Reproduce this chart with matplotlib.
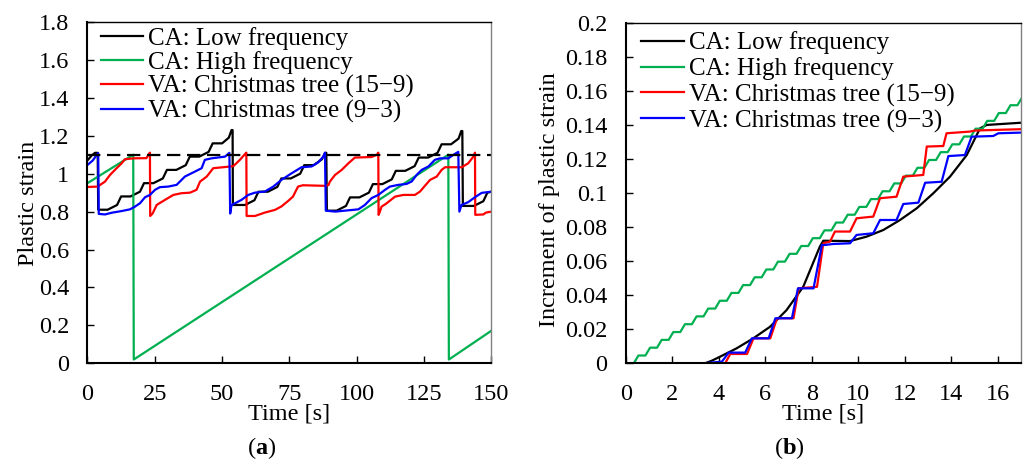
import numpy as np
import matplotlib
matplotlib.use("Agg")
import matplotlib.pyplot as plt
from matplotlib.ticker import FuncFormatter

plt.rcParams["font.family"] = ["Liberation Serif", "DejaVu Serif"]
plt.rcParams["font.size"] = 17.5
plt.rcParams["mathtext.fontset"] = "custom"
plt.rcParams["mathtext.rm"] = "Liberation Serif"
plt.rcParams["mathtext.bf"] = "Liberation Serif:bold"

# -------------------------
# Panel (a): plastic strain vs time
# -------------------------
labels = ["CA: Low frequency", "CA: High frequency",
          "VA: Christmas tree (15\u22129)", "VA: Christmas tree (9\u22123)"]
colors = ["#000000", "#00B050", "#FF0000", "#0000FF"]

limit_a = 1.1

low_a_t = [0, 1.5, 2.8, 3.8, 4.0,
           7.5, 11, 12.5, 16, 19.5, 21, 24.5, 28, 29.5, 33, 36.5, 38,
           41.5, 45, 46.5, 50, 52.5, 53.5, 53.9, 54.0,
           58.5, 62, 63.5, 67, 70.5, 72, 75.5, 79, 80.5, 84, 87, 88.3, 88.7, 88.9,
           92.5, 96, 97.5, 101, 104.5, 106, 109.5, 113, 114.5, 118, 121.5, 123,
           126.5, 130, 131.5, 135, 137.8, 138.8, 139.2, 139.4,
           143.5, 147, 148.5, 150]
low_a_v = [1.07, 1.095, 1.11, 1.11, 0.81,
           0.81, 0.835, 0.88, 0.88, 0.905, 0.95, 0.95, 0.975, 1.02, 1.02, 1.045, 1.09,
           1.09, 1.115, 1.16, 1.16, 1.19, 1.23, 1.23, 0.835,
           0.835, 0.86, 0.905, 0.905, 0.93, 0.975, 0.975, 1.0, 1.045, 1.045, 1.075, 1.11, 1.11, 0.805,
           0.805, 0.83, 0.875, 0.875, 0.9, 0.945, 0.945, 0.97, 1.015, 1.015, 1.04, 1.085,
           1.085, 1.11, 1.155, 1.155, 1.185, 1.225, 1.225, 0.83,
           0.83, 0.855, 0.90, 0.905]

high_a_t = [0, 17.0, 17.2, 134.0, 134.2, 150]
high_a_v = [0.95, 1.1, 0.02, 1.1, 0.02, 0.172]

va15_a_t = [0, 4.0, 4.6, 6.5, 8.35, 10.2, 12.7, 13.9, 17, 21.9, 22.6, 23.2, 23.3,
            24.2, 25.7, 28.8, 31.9, 34.9, 38.1, 40.5, 41.8, 44.3, 46.7, 51.7, 54.2,
            56.6, 58.8, 59.0, 59.1,
            62.2, 65.9, 69.6, 72, 74.5, 76.3, 78.2, 80, 88.1, 89.5, 90, 91.9, 94.4,
            96.9, 99.3, 105.5, 107.5, 108, 108.1,
            108.6, 109.2, 111.1, 114.2, 117.3, 121.6, 123.5, 125.3, 127.2, 129.7,
            131.5, 132.8, 139, 141.4, 143.3, 143.9, 144.0, 147, 148, 150]
va15_a_v = [0.93, 0.932, 0.94, 0.958, 0.993, 1.02, 1.055, 1.076, 1.081, 1.082, 1.099, 1.111, 0.777,
            0.79, 0.835, 0.862, 0.888, 0.897, 0.9, 0.915, 0.958, 0.985, 1.029, 1.036, 1.04,
            1.073, 1.108, 1.111, 0.777,
            0.777, 0.795, 0.809, 0.827, 0.856, 0.879, 0.932, 0.939, 0.936, 0.94, 0.958, 0.993, 1.02,
            1.055, 1.085, 1.088, 1.1, 1.111, 0.783,
            0.80, 0.826, 0.844, 0.879, 0.888, 0.888, 0.906, 0.936, 0.967, 0.985,
            1.02, 1.034, 1.034, 1.055, 1.09, 1.111, 0.783, 0.785, 0.795, 0.80]

va9_a_t = [0, 2, 3.5, 4.0, 4.2, 6.5, 8.97, 12.7, 15.8, 17.6, 19.5, 21.4, 23.2, 25.1,
           26.9, 30, 33.1, 36.2, 39.9, 42.4, 43.6, 46.1, 51.1, 52.7, 53.0,
           53.5, 54.8, 57.2, 59.7, 62.2, 65.9, 69, 72, 75.8, 79.5, 83.2, 85.6, 87.6,
           88.2, 88.5,
           92, 95.6, 100.6, 103, 105.5, 108, 110.5, 112.3, 115.4, 118.5, 120.4, 122.2,
           124.1, 126.6, 129, 130.9, 134, 136.5, 137.7, 138.1,
           138.9, 141.4, 143.9, 146.4, 150]
va9_a_v = [1.046, 1.07, 1.1, 1.108, 0.788, 0.785, 0.794, 0.803, 0.812, 0.826, 0.844, 0.876, 0.888, 0.915,
           0.929, 0.932, 0.941, 0.985, 1.011, 1.029, 1.073, 1.081, 1.09, 1.11, 0.79,
           0.835, 0.844, 0.862, 0.888, 0.9, 0.906, 0.932, 0.967, 1.002, 1.034, 1.038, 1.059, 1.09,
           1.111, 0.805,
           0.8, 0.805, 0.812, 0.835, 0.871, 0.888, 0.915, 0.932, 0.941, 0.946, 0.959, 0.993,
           1.02, 1.038, 1.073, 1.081, 1.081, 1.105, 1.115, 0.80,
           0.835, 0.85, 0.876, 0.899, 0.905]

# -------------------------
# Panel (b): increment of plastic strain
# -------------------------
low_b_t = [0, 3.41, 3.7, 4.06, 4.77, 5.49, 6.21, 6.92, 7.64, 8.35, 8.5, 9.65, 10.36,
           11.08, 11.8, 12.52, 13.23, 13.95, 14.67, 15.24, 15.53, 17]
low_b_v = [0, 0, 0.0015, 0.0039, 0.0088, 0.0147, 0.0215, 0.0313, 0.0451, 0.0686, 0.0721,
           0.0719, 0.0745, 0.0784, 0.0843, 0.0912, 0.1, 0.1098, 0.1225, 0.1382, 0.1402, 0.1415]

# high frequency staircase: step onset times and the level reached after each step
high_b_onset = [0.35, 0.85, 1.35, 1.85, 2.35, 2.85, 3.35, 3.85, 4.35, 4.85, 5.35, 5.85,
                6.35, 6.85, 7.35, 7.85, 8.35, 8.85, 9.35, 9.85, 10.35, 10.85, 11.35,
                11.85, 12.35, 12.85, 13.35, 13.85, 14.35, 14.85, 15.35, 15.85, 16.35, 16.85]
high_b_level = [0.0046, 0.0092, 0.0138, 0.0184, 0.023, 0.0276, 0.0322, 0.0368, 0.0414,
                0.046, 0.0506, 0.0552, 0.0598, 0.0644, 0.069, 0.0736, 0.0782, 0.0828,
                0.0874, 0.092, 0.0966, 0.1012, 0.1058, 0.1104, 0.115, 0.1196, 0.1242,
                0.1288, 0.1334, 0.138, 0.1426, 0.1472, 0.1518, 0.1564]

va15_b_t = [0, 4.28, 4.5, 5.22, 5.5, 6.22, 6.51, 7.22, 7.44, 8.23, 8.5, 8.79, 9.0, 9.65,
            9.93, 10.65, 10.94, 11.65, 11.94, 12.8, 12.95, 13.66, 13.8, 14.81, 15.02,
            15.95, 17]
va15_b_v = [0, 0, 0.0055, 0.0055, 0.0147, 0.0147, 0.0265, 0.0265, 0.0441, 0.045, 0.0706,
            0.0716, 0.0775, 0.0775, 0.0853, 0.0863, 0.0971, 0.098, 0.1098, 0.1108, 0.1275,
            0.1278, 0.1353, 0.1363, 0.1369, 0.1373, 0.1377]

va9_b_t = [0, 3.35, 4.14, 4.43, 5.14, 5.43, 6.15, 6.44, 7.15, 7.41, 8.08, 8.44, 8.57,
           8.93, 9.65, 9.93, 10.65, 10.94, 11.65, 11.94, 12.59, 12.88, 13.59, 13.88,
           14.59, 14.88, 15.81, 16.03, 17]
va9_b_v = [0, 0, 0.001, 0.0063, 0.0063, 0.0147, 0.0147, 0.0265, 0.0265, 0.0441, 0.0441,
           0.0696, 0.0696, 0.0702, 0.0706, 0.0755, 0.0765, 0.0843, 0.0843, 0.0937, 0.0945,
           0.1062, 0.1068, 0.1219, 0.1225, 0.1333, 0.1337, 0.1353, 0.1357]


def ramp_steps(onsets, levels, rise=0.2):
    xs, ys = [0], [0]
    prev = 0
    for t0, lv in zip(onsets, levels):
        xs += [t0, t0 + rise]
        ys += [prev, lv]
        prev = lv
    return xs, ys


def style_axes(ax):
    ax.tick_params(direction="in", length=5, width=1, labelsize=17.5)
    ax.tick_params(axis="x", pad=15)
    ax.tick_params(axis="y", pad=13)
    for side in ["left", "bottom"]:
        ax.spines[side].set_linewidth(1.5)
    ax.spines["top"].set_linewidth(1)
    ax.spines["right"].set_linewidth(1)
    ax.spines["right"].set_color("#808080")
    ax.yaxis.set_major_formatter(FuncFormatter(lambda v, _: f"{v:g}"))


fig = plt.figure(figsize=(10.24, 4.61), dpi=100)
ax1 = fig.add_axes([0.0854, 0.2119, 0.3945, 0.7404])
ax2 = fig.add_axes([0.611, 0.2119, 0.386, 0.7376])

lw = 1.6
ax1.plot(low_a_t, low_a_v, color=colors[0], lw=lw, label=labels[0])
ax1.plot(high_a_t, high_a_v, color=colors[1], lw=lw, label=labels[1])
ax1.plot(va15_a_t, va15_a_v, color=colors[2], lw=lw, label=labels[2])
ax1.plot(va9_a_t, va9_a_v, color=colors[3], lw=lw, label=labels[3])
ax1.axhline(limit_a, color="black", lw=1.6, dashes=(6, 3))
ax1.set_xlim(0, 150)
ax1.set_ylim(0, 1.8)
ax1.set_xticks(np.arange(0, 151, 25))
ax1.set_yticks(np.round(np.arange(0, 1.81, 0.2), 2))
style_axes(ax1)
ax1.set_xlabel("Time [s]")
ax1.set_ylabel("Plastic strain")
ax1.yaxis.set_label_coords(-0.12, 0.47)
ax1.xaxis.set_label_coords(0.5, -0.118)
ax1.legend(loc="upper left", bbox_to_anchor=(0.033, 0.986), frameon=False,
           borderpad=0, borderaxespad=0, handlelength=1.7, handletextpad=0.2,
           labelspacing=0.05, fontsize=18)

hx, hy = ramp_steps(high_b_onset, high_b_level)
ax2.plot(low_b_t, low_b_v, color=colors[0], lw=lw, label=labels[0])
ax2.plot(hx, hy, color=colors[1], lw=lw, label=labels[1])
ax2.plot(va15_b_t, va15_b_v, color=colors[2], lw=lw, label=labels[2])
ax2.plot(va9_b_t, va9_b_v, color=colors[3], lw=lw, label=labels[3])
ax2.set_xlim(0, 17)
ax2.set_ylim(0, 0.2)
ax2.set_xticks(np.arange(0, 17, 2))
ax2.set_yticks(np.round(np.arange(0, 0.201, 0.02), 2))
style_axes(ax2)
ax2.set_xlabel("Time [s]")
ax2.set_ylabel("Increment of plastic strain")
ax2.yaxis.set_label_coords(-0.166, 0.48)
ax2.xaxis.set_label_coords(0.5, -0.118)
ax2.legend(loc="upper left", bbox_to_anchor=(0.04, 0.976), frameon=False,
           borderpad=0, borderaxespad=0, handlelength=1.7, handletextpad=0.2,
           labelspacing=0.12, fontsize=18)

fig.text(262 / 1024, 1 - 448 / 461, r"($\mathbf{a}$)", ha="center", va="center", fontsize=17.5)
fig.text(789 / 1024, 1 - 448 / 461, r"($\mathbf{b}$)", ha="center", va="center", fontsize=17.5)

fig.savefig("out.png", dpi=100)
